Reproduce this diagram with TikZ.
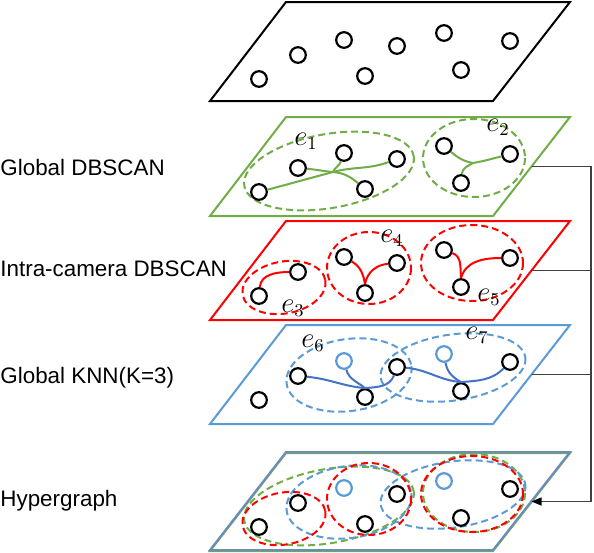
\documentclass[tikz,border=0pt]{standalone}
\usepackage{fontspec}
\setmainfont{Liberation Sans}
\usepackage{tikz}
\usetikzlibrary{arrows.meta,calc}
\definecolor{gdb}{HTML}{70AD47}
\definecolor{idb}{HTML}{FF0000}
\definecolor{knn}{HTML}{5B9BD5}
\definecolor{knnl}{HTML}{4472C4}
\definecolor{wirec}{HTML}{404040}
\tikzset{
  plane/.style={line width=1pt, line join=miter},
  dot/.style={circle, draw=black, fill=white, line width=1.1pt,
              minimum size=7.8pt, inner sep=0pt},
  hedge/.style={dash pattern=on 3.5pt off 2pt, line width=1pt},
  link/.style={line width=1pt},
  elbl/.style={font=\fontsize{13.5}{15}\selectfont, inner sep=0pt},
  lname/.style={font=\fontsize{11.2}{13}\selectfont, anchor=base west, inner sep=0pt},
  wire/.style={draw=wirec, line width=0.6pt},
  ar/.style={wire, -{Triangle[length=5pt,width=4pt,color=black]}},
}
\begin{document}
\begin{tikzpicture}[x=0.5pt, y=-0.5pt]
  \useasboundingbox (0,0) rectangle (594,552);

  % --- planes ---
  \foreach \l/\t/\c in {top/2/black, gdb/117/gdb, idb/221/idb, knn/325/knn} {
    \draw[plane, draw=\c] (286,\t) -- (570,\t) -- (493,\t+99) -- (210,\t+99) -- cycle;
    \coordinate (\l-r) at (531.5,\t+49.5);
  }
  \draw[plane, draw=gdb] (286,453) -- (570,453) -- (493,551) -- (210,551) -- cycle;
  \draw[plane, draw=knn!90!idb] (286,452) -- (570,452) -- (493,550) -- (210,550) -- cycle;
  \coordinate (hyp-r) at (531.5,501.5);

  % --- hyperedges (own plane + hypergraph) ---
  \foreach \t in {117,452} {
    \draw[hedge, draw=gdb, rotate around={10:(329,\t+54)}] (329,\t+54) ellipse [x radius=86, y radius=37];
    \draw[hedge, draw=gdb] (474,\t+41) ellipse [x radius=51, y radius=39];
  }
  \foreach \t in {325,452} {
    \draw[hedge, draw=knn, rotate around={8:(349,\t+50)}] (349,\t+50) ellipse [x radius=63, y radius=36];
    \draw[hedge, draw=knn, rotate around={8:(453,\t+42.5)}] (453,\t+42.5) ellipse [x radius=73, y radius=33];
  }
  \foreach \t in {221,452} {
    \draw[hedge, draw=idb, rotate around={10:(284,\t+66.5)}] (284,\t+66.5) ellipse [x radius=42, y radius=26];
    \draw[hedge, draw=idb] (369,\t+47) ellipse [x radius=42, y radius=36];
    \draw[hedge, draw=idb] (472,\t+42) ellipse [x radius=51, y radius=38];
  }

  % --- samples ---
  \foreach \l/\p/\k in {top/4/black, gdb/117/black, idb/221/black, knn/325/knn, hyp/452/knn} {
    \foreach \n/\x/\y in {a/259/75, b/298/51, d/365/72, e/397/42, g/461/66, h/510/37}
      \node[dot] (\l-\n) at (\x,\p+\y) {};
    \foreach \n/\x/\y in {c/344/36, f/444/29}
      \node[dot, draw=\k] (\l-\n) at (\x,\p+\y) {};
  }

  % --- global DBSCAN ---
  \coordinate (gj1) at (333,172);
  \coordinate (gj2) at (473,163);
  \draw[link, draw=gdb] (gdb-a) to[out=15,in=195] (gj1) to[out=15,in=200] (gdb-e);
  \draw[link, draw=gdb] (gdb-b) to[out=-5,in=175] (gj1) to[out=-5,in=140] (gdb-d);
  \draw[link, draw=gdb] (gdb-c) to[out=-110,in=70] (gj1);
  \draw[link, draw=gdb] (gdb-f) to[out=-40,in=170] (gj2) to[out=10,in=195] (gdb-h);
  \draw[link, draw=gdb] (gdb-g) to[out=85,in=210] (gj2);

  % --- intra-camera DBSCAN ---
  \draw[link, draw=idb] (idb-a) to[out=85,in=180] (idb-b);
  \draw[link, draw=idb] (idb-c) to[out=-30,in=100] (idb-d.north);
  \draw[link, draw=idb] (idb-e) to[out=185,in=80] (idb-d.north);
  \draw[link, draw=idb] (idb-f) to[out=-20,in=95] (idb-g.north);
  \draw[link, draw=idb] (idb-h) to[out=180,in=75] (idb-g.north);

  % --- global KNN ---
  \draw[link, draw=knnl] (knn-b) to[out=-5,in=175] (knn-d.north) to[out=5,in=250] (knn-e);
  \draw[link, draw=knnl] (knn-c) to[out=-75,in=140] (knn-d.north);
  \draw[link, draw=knnl] (knn-e) to[out=-5,in=175] (knn-g.north) to[out=5,in=225] (knn-h);
  \draw[link, draw=knnl] (knn-f) to[out=-80,in=150] (knn-g.north);

  % --- hyperedge names ---
  \node[elbl] (e1) at (306,141) {$e_1$};
  \node[elbl] (e2) at (498,127) {$e_2$};
  \node[elbl] (e3) at (293,308) {$e_3$};
  \node[elbl] (e4) at (392,238) {$e_4$};
  \node[elbl] (e5) at (489,297) {$e_5$};
  \node[elbl] (e6) at (313,343) {$e_6$};
  \node[elbl] (e7) at (477,335) {$e_7$};

  % --- plane names ---
  \node[lname] (t-gdb) at (0,175) {Global DBSCAN};
  \node[lname] (t-idb) at (0,276.7) {Intra-camera DBSCAN};
  \node[lname] (t-knn) at (0,383.3) {Global KNN(K=3)};
  \node[lname] (t-hyp) at (0,506.7) {Hypergraph};

  % --- merge into hypergraph ---
  \coordinate (bus) at (591,0);
  \draw[wire] (idb-r) -- (idb-r -| bus);
  \draw[wire] (knn-r) -- (knn-r -| bus);
  \draw[ar] (gdb-r) -- (gdb-r -| bus) |- (hyp-r);
\end{tikzpicture}
\end{document}
